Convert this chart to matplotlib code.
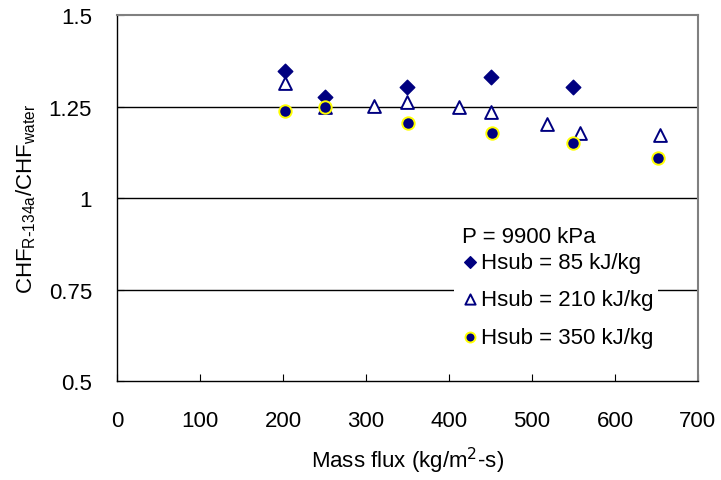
import matplotlib
matplotlib.use("Agg")
import matplotlib.pyplot as plt

plt.rcParams['font.family'] = ['Liberation Sans', 'DejaVu Sans']

# Hsub = 85 kJ/kg
x_85 = [202, 251, 349, 451, 550]
y_85 = [1.347, 1.277, 1.302, 1.332, 1.302]

# Hsub = 210 kJ/kg
x_210 = [202, 251, 310, 350, 412, 451, 518, 558, 654]
y_210 = [1.313, 1.250, 1.252, 1.261, 1.250, 1.236, 1.202, 1.179, 1.172]

# Hsub = 350 kJ/kg
x_350 = [202, 251, 351, 452, 550, 652]
y_350 = [1.238, 1.250, 1.205, 1.179, 1.149, 1.110]

xticks = [0, 100, 200, 300, 400, 500, 600, 700]
yticks = [0.5, 0.75, 1.0, 1.25, 1.5]
ytick_labels = ['0.5', '0.75', '1', '1.25', '1.5']

navy = '#000080'

fig = plt.figure(figsize=(7.21, 4.81), dpi=100)
ax = fig.add_axes([0.1623, 0.2058, 0.8057, 0.7609])

for y in [0.75, 1.0, 1.25]:
    ax.axhline(y, color='black', lw=1.0, zorder=1)

ax.scatter(x_85, y_85, marker='D', s=55, color=navy, zorder=3,
           label='Hsub = 85 kJ/kg')
ax.scatter(x_210, y_210, marker='^', s=85, facecolor='white', edgecolor=navy,
           linewidths=1.4, zorder=3, label='Hsub = 210 kJ/kg')
ax.scatter(x_350, y_350, marker='o', s=80, facecolor=navy, edgecolor='#ffff00',
           linewidths=1.4, zorder=4, label='Hsub = 350 kJ/kg')

ax.set_xlim(0, 700)
ax.set_ylim(0.5, 1.5)
ax.set_xticks(xticks)
ax.set_yticks(yticks)
ax.set_yticklabels(ytick_labels)
ax.tick_params(direction='in', length=5, labelsize=16, color='black')
ax.tick_params(axis='x', pad=21)
ax.tick_params(axis='y', pad=18)

for s in ['left', 'bottom']:
    ax.spines[s].set_color('black')
    ax.spines[s].set_linewidth(1.0)
for s in ['top', 'right']:
    ax.spines[s].set_color('#808080')
    ax.spines[s].set_linewidth(1.5)

ax.set_xlabel('Mass flux (kg/m$^2$-s)', fontsize=16, labelpad=10)
ax.set_ylabel('CHF$_{\\mathregular{R\\text{-}134a}}$/CHF$_{\\mathregular{water}}$',
              fontsize=16, labelpad=8)

# pressure note above the legend
ax.text(0.594, 0.396, 'P = 9900 kPa', transform=ax.transAxes, fontsize=16,
        ha='left', va='center', zorder=5)

leg = ax.legend(loc='upper left', bbox_to_anchor=(0.561, 0.396), frameon=True,
                fontsize=16, handletextpad=0.0, borderpad=0.2, labelspacing=0.75,
                handlelength=1.0, markerscale=0.8)
leg.get_frame().set_edgecolor('none')
leg.get_frame().set_facecolor('white')
leg.get_frame().set_alpha(1.0)

fig.savefig('out.png', dpi=100)
